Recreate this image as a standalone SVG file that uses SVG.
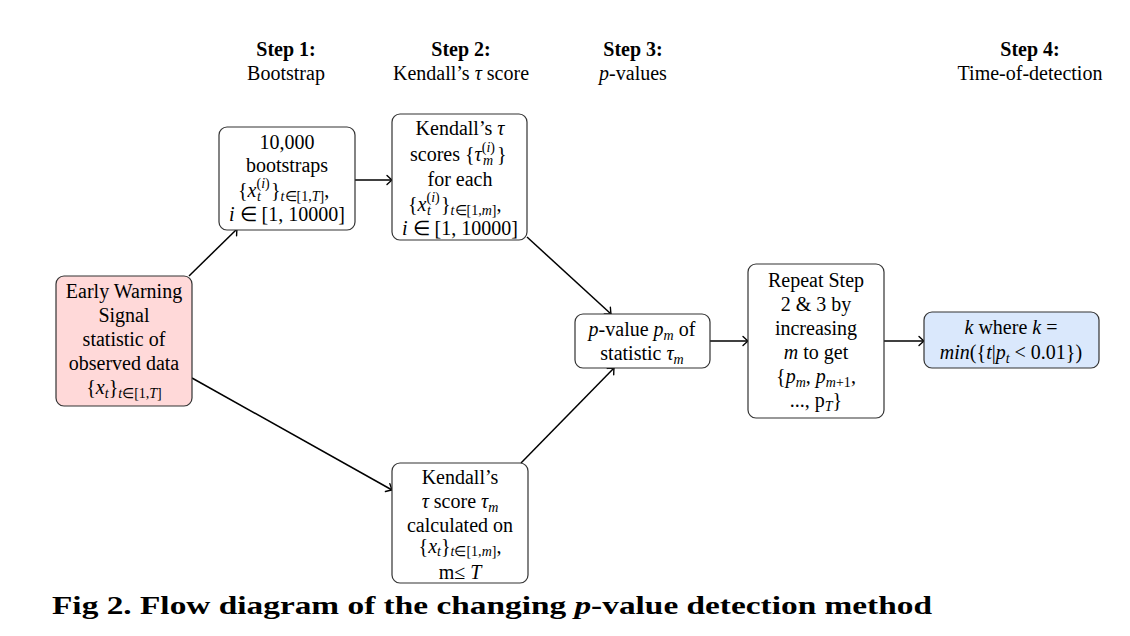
<svg xmlns="http://www.w3.org/2000/svg" width="1130" height="636" viewBox="0 0 1130 636">
<style>
text{font-family:"Liberation Serif","Times New Roman",serif;font-size:20px;fill:#000}
.c{text-anchor:middle}
.i{font-style:italic}
.s{font-size:14px}
.b{font-weight:bold}
.box{fill:#fff;stroke:#333;stroke-width:1.2}
.pink{fill:#ffd9d9}
.blue{fill:#dae8fc}
.con path{fill:none;stroke:#000;stroke-width:1.5}
</style>
<defs>
<marker id="ar" markerWidth="12" markerHeight="12" refX="0" refY="0" viewBox="-8 -6 10 12" orient="auto" markerUnits="userSpaceOnUse">
<path d="M-5,-4.5 Q-1.5,-1.2 0,0 Q-1.5,1.2 -5,4.5" fill="none" stroke="#000" stroke-width="1.4" stroke-linecap="round"/>
</marker>
</defs>

<g id="headers">
<text class="c b" x="286" y="56">Step 1:</text>
<text class="c" x="286" y="80">Bootstrap</text>
<text class="c b" x="461" y="56">Step 2:</text>
<text class="c" x="461" y="80">Kendall’s <tspan class="i">τ</tspan> score</text>
<text class="c b" x="633" y="56">Step 3:</text>
<text class="c" x="633" y="80"><tspan class="i">p</tspan>-values</text>
<text class="c b" x="1030" y="56">Step 4:</text>
<text class="c" x="1030" y="80">Time-of-detection</text>
</g>

<g class="con" id="connectors">
<path d="M189,276 L237,229" marker-end="url(#ar)"/>
<path d="M192,378 L392,490" marker-end="url(#ar)"/>
<path d="M355,180 L392,180" marker-end="url(#ar)"/>
<path d="M527,237 L611,314" marker-end="url(#ar)"/>
<path d="M521,463 L614,368" marker-end="url(#ar)"/>
<path d="M710,341 L748,341" marker-end="url(#ar)"/>
<path d="M884,341 L924,341" marker-end="url(#ar)"/>
</g>

<g id="ews">
<rect class="box pink" x="56" y="276" width="136" height="130" rx="8"/>
<text class="c" x="124" y="298">Early Warning</text>
<text class="c" x="124" y="322">Signal</text>
<text class="c" x="124" y="346">statistic of</text>
<text class="c" x="124" y="370">observed data</text>
<text class="c" x="124" y="394">{<tspan class="i">x</tspan><tspan class="s i" dy="4">t</tspan><tspan dy="-4">}</tspan><tspan class="s" dy="4"><tspan class="i">t</tspan>∈[1,<tspan class="i">T</tspan>]</tspan></text>
</g>

<g id="bootstrap">
<rect class="box" x="219" y="127" width="136" height="103" rx="8"/>
<text class="c" x="287" y="149">10,000</text>
<text class="c" x="287" y="172">bootstraps</text>
<text x="238" y="197">{<tspan class="i">x</tspan><tspan class="s" dy="-9">(<tspan class="i">i</tspan>)</tspan><tspan class="s i" x="257" dy="13">t</tspan><tspan x="271" dy="-4">}</tspan><tspan class="s" dy="4"><tspan class="i">t</tspan>∈[1,<tspan class="i">T</tspan>]</tspan><tspan dy="-4">,</tspan></text>
<text class="c" x="287" y="221"><tspan class="i">i</tspan> ∈ [1, 10000]</text>
</g>

<g id="kendall-boot">
<rect class="box" x="392" y="114" width="135" height="126" rx="8"/>
<text class="c" x="460" y="135">Kendall’s <tspan class="i">τ</tspan></text>
<text x="410" y="161">scores {<tspan class="i">τ</tspan><tspan class="s" dy="-9">(<tspan class="i">i</tspan>)</tspan><tspan class="s i" x="483" dy="13">m</tspan><tspan x="497" dy="-4">}</tspan></text>
<text class="c" x="460" y="186">for each</text>
<text x="408" y="211">{<tspan class="i">x</tspan><tspan class="s" dy="-9">(<tspan class="i">i</tspan>)</tspan><tspan class="s i" x="427" dy="13">t</tspan><tspan x="441" dy="-4">}</tspan><tspan class="s" dy="4"><tspan class="i">t</tspan>∈[1,<tspan class="i">m</tspan>]</tspan><tspan dy="-4">,</tspan></text>
<text class="c" x="460" y="235"><tspan class="i">i</tspan> ∈ [1, 10000]</text>
</g>

<g id="kendall-obs">
<rect class="box" x="392" y="463" width="136" height="120" rx="8"/>
<text class="c" x="460" y="484">Kendall’s</text>
<text class="c" x="460" y="508"><tspan class="i">τ</tspan> score <tspan class="i">τ</tspan><tspan class="s i" dy="4">m</tspan></text>
<text class="c" x="460" y="532">calculated on</text>
<text class="c" x="460" y="553">{<tspan class="i">x</tspan><tspan class="s i" dy="3">t</tspan><tspan dy="-3">}</tspan><tspan class="s" dy="3"><tspan class="i">t</tspan>∈[1,<tspan class="i">m</tspan>]</tspan><tspan dy="-3">,</tspan></text>
<text class="c" x="460" y="579">m≤ <tspan class="i">T</tspan></text>
</g>

<g id="pvalue">
<rect class="box" x="575" y="314" width="135" height="54" rx="8"/>
<text class="c" x="642" y="336"><tspan class="i">p</tspan>-value <tspan class="i">p</tspan><tspan class="s i" dy="4">m</tspan><tspan dy="-4"> of</tspan></text>
<text class="c" x="642" y="360">statistic <tspan class="i">τ</tspan><tspan class="s i" dy="4">m</tspan></text>
</g>

<g id="repeat">
<rect class="box" x="748" y="264" width="136" height="154" rx="8"/>
<text class="c" x="816" y="287">Repeat Step</text>
<text class="c" x="816" y="311">2 &amp; 3 by</text>
<text class="c" x="816" y="335">increasing</text>
<text class="c" x="816" y="359"><tspan class="i">m</tspan> to get</text>
<text class="c" x="816" y="383">{<tspan class="i">p</tspan><tspan class="s i" dy="4">m</tspan><tspan dy="-4">, </tspan><tspan class="i">p</tspan><tspan class="s" dy="4"><tspan class="i">m</tspan>+1</tspan><tspan dy="-4">,</tspan></text>
<text class="c" x="816" y="407">..., p<tspan class="s i" dy="4">T</tspan><tspan dy="-4">}</tspan></text>
</g>

<g id="detect">
<rect class="box blue" x="924" y="312" width="175" height="56" rx="8"/>
<text class="c" x="1011" y="334"><tspan class="i">k</tspan> where <tspan class="i">k</tspan> =</text>
<text class="c" x="1011" y="359"><tspan class="i">min</tspan>({<tspan class="i">t</tspan>|<tspan class="i">p</tspan><tspan class="s i" dy="4">t</tspan><tspan dy="-4"> &lt; 0.01})</tspan></text>
</g>

<g id="caption">
<text class="b" x="52" y="614" style="font-size:25px" textLength="880" lengthAdjust="spacingAndGlyphs">Fig 2. Flow diagram of the changing <tspan class="i">p</tspan>-value detection method</text>
</g>
</svg>
